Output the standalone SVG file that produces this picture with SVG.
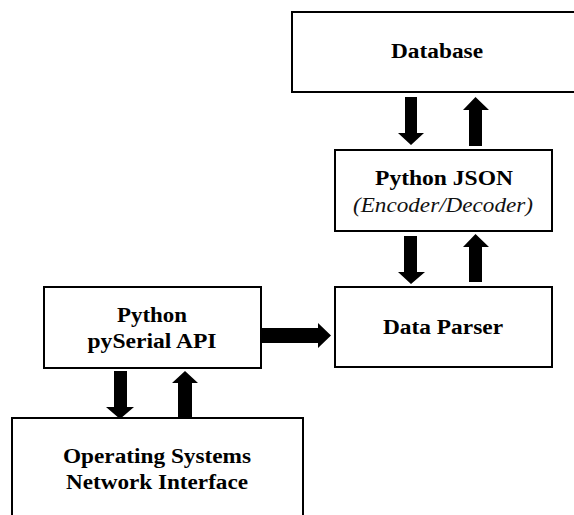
<svg xmlns="http://www.w3.org/2000/svg" width="574" height="515" viewBox="0 0 574 515">
<style>
.box{fill:#fff;stroke:#000;stroke-width:2}
.t{font-family:"Liberation Serif","Times New Roman",serif;font-weight:bold;font-size:20px;fill:#000;text-anchor:middle}
.i{font-family:"Liberation Serif","Times New Roman",serif;font-style:italic;font-size:20px;fill:#111;text-anchor:middle}
.arr{fill:#000}
</style>
<rect width="574" height="515" fill="#fff"/>
<g id="database">
<rect class="box" x="292" y="12" width="300" height="80"/>
<text class="t" x="437" y="58" textLength="92" lengthAdjust="spacingAndGlyphs">Database</text>
</g>
<g id="json">
<rect class="box" x="335" y="150" width="217" height="81"/>
<text class="t" x="444" y="185" textLength="138" lengthAdjust="spacingAndGlyphs">Python JSON</text>
<text class="i" x="443" y="212" textLength="180" lengthAdjust="spacingAndGlyphs">(Encoder/Decoder)</text>
</g>
<g id="parser">
<rect class="box" x="335" y="287" width="217" height="80"/>
<text class="t" x="443" y="334" textLength="120" lengthAdjust="spacingAndGlyphs">Data Parser</text>
</g>
<g id="pyserial">
<rect class="box" x="44" y="287" width="217" height="81"/>
<text class="t" x="152" y="322" textLength="70" lengthAdjust="spacingAndGlyphs">Python</text>
<text class="t" x="152" y="348" textLength="129" lengthAdjust="spacingAndGlyphs">pySerial API</text>
</g>
<g id="os">
<rect class="box" x="12" y="418" width="291" height="110"/>
<text class="t" x="157" y="463" textLength="188" lengthAdjust="spacingAndGlyphs">Operating Systems</text>
<text class="t" x="157" y="489" textLength="182" lengthAdjust="spacingAndGlyphs">Network Interface</text>
</g>
<g id="connectors">
<polygon class="arr" points="405,97 417,97 417,133 424,133 411,145 398,133 405,133"/>
<polygon class="arr" points="469,146 482,146 482,110 489,110 475.5,97 463,110 469,110"/>
<polygon class="arr" points="404,236 417,236 417,272 425,272 411,284 398,272 404,272"/>
<polygon class="arr" points="469,282 482,282 482,247 489,247 475.5,234 463,247 469,247"/>
<polygon class="arr" points="114,371 127,371 127,407 134,407 120,419 106,407 114,407"/>
<polygon class="arr" points="178,418 192,418 192,383 198,383 185,371 172,383 178,383"/>
<polygon class="arr" points="262,328 318,328 318,323 331,335.5 318,348 318,343 262,343"/>
</g>
</svg>
